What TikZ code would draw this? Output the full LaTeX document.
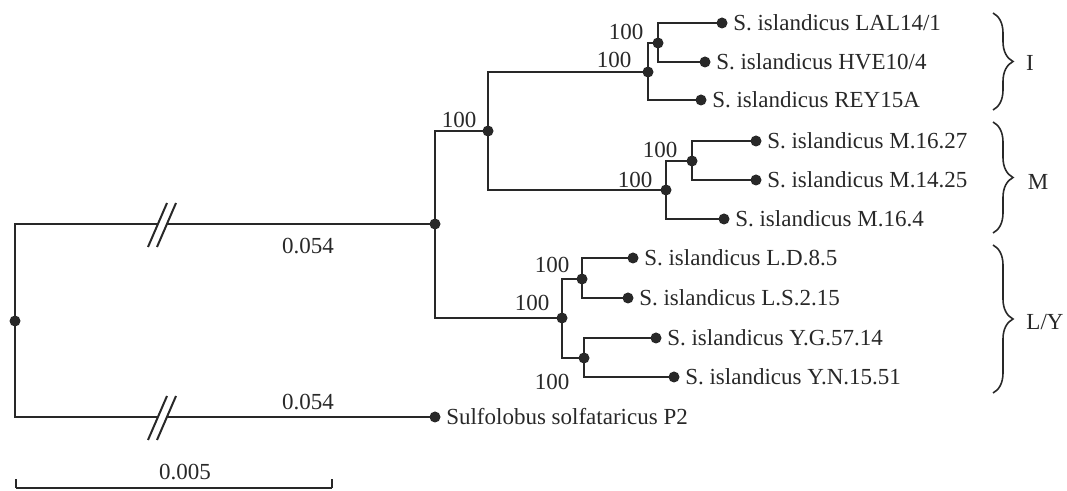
\documentclass[tikz,border=0pt]{standalone}
\usepackage{fontspec}
\setmainfont{Liberation Serif}
\usetikzlibrary{decorations.pathreplacing}

\definecolor{treegray}{RGB}{40,40,40}

\tikzset{
  dot/.style={circle, fill=treegray, inner sep=0pt, minimum size=5.5pt},
  branch/.style={draw=treegray, line width=1pt},
  txt/.style={text=treegray, inner sep=0pt, font=\fontsize{11.5}{13}\selectfont},
  taxon/.style={txt, label distance=2.5pt},
  clade/.style={draw=treegray, line width=0.8pt, decorate,
    decoration={brace, amplitude=10pt}}
}

\begin{document}
\begin{tikzpicture}[x=0.5pt, y=-0.5pt]
   \useasboundingbox (0,0) rectangle (1067,491);

   % inner nodes
   \node[dot] (root) at (15,321) {};
   \node[dot] (isl) at (435,224) {};
   \node[dot] (im) at (488,131) {};
   \node[dot] (ly) at (562,318) {};
   \node[dot] (ci) at (648,72) {};
   \node[dot] (ci2) at (658,43) {};
   \node[dot] (cm) at (666,190) {};
   \node[dot] (cm2) at (692,161) {};
   \node[dot] (cl) at (582,279) {};
   \node[dot] (cy) at (584,358) {};

   % leaves
   \node[dot, label={[taxon]right:S. islandicus LAL14/1}] (lal) at (722,23) {};
   \node[dot, label={[taxon]right:S. islandicus HVE10/4}] (hve) at (705,62) {};
   \node[dot, label={[taxon]right:S. islandicus REY15A}] (rey) at (701,100) {};
   \node[dot, label={[taxon]right:S. islandicus M.16.27}] (m1627) at (756,141) {};
   \node[dot, label={[taxon]right:S. islandicus M.14.25}] (m1425) at (756,180) {};
   \node[dot, label={[taxon]right:S. islandicus M.16.4}] (m164) at (724,219) {};
   \node[dot, label={[taxon]right:S. islandicus L.D.8.5}] (ld) at (633,258) {};
   \node[dot, label={[taxon]right:S. islandicus L.S.2.15}] (ls) at (628,298) {};
   \node[dot, label={[taxon]right:S. islandicus Y.G.57.14}] (yg) at (656,338) {};
   \node[dot, label={[taxon]right:S. islandicus Y.N.15.51}] (yn) at (674,377) {};
   \node[dot, label={[taxon]right:Sulfolobus solfataricus P2}] (sso) at (435,417) {};

   % branches
   \coordinate (brk1) at (158,224);
   \coordinate (brk2) at (167,224);
   \coordinate (brk3) at (158,417);
   \coordinate (brk4) at (167,417);
   \draw[branch] (root.center) |- (brk1);
   \draw[branch] (brk2) -- (isl.center);
   \draw[branch] (root.center) |- (brk3);
   \draw[branch] (brk4) -- (sso.center);
   \draw[branch] (isl.center) |- (im.center);
   \draw[branch] (isl.center) |- (ly.center);
   \draw[branch] (im.center) |- (ci.center);
   \draw[branch] (im.center) |- (cm.center);
   \draw[branch] (ci.center) |- (ci2.center);
   \draw[branch] (ci.center) |- (rey.center);
   \draw[branch] (ci2.center) |- (lal.center);
   \draw[branch] (ci2.center) |- (hve.center);
   \draw[branch] (cm.center) |- (cm2.center);
   \draw[branch] (cm.center) |- (m164.center);
   \draw[branch] (cm2.center) |- (m1627.center);
   \draw[branch] (cm2.center) |- (m1425.center);
   \draw[branch] (ly.center) |- (cl.center);
   \draw[branch] (ly.center) |- (cy.center);
   \draw[branch] (cl.center) |- (ld.center);
   \draw[branch] (cl.center) |- (ls.center);
   \draw[branch] (cy.center) |- (yg.center);
   \draw[branch] (cy.center) |- (yn.center);

   % breaks
   \draw[branch] (148,247) -- (167,203);
   \draw[branch] (157,247) -- (176,203);
   \draw[branch] (148,440) -- (167,396);
   \draw[branch] (157,440) -- (176,396);

   % branch lengths
   \node[txt] (len1) at (308,246) {0.054};
   \node[txt] (len2) at (308,402) {0.054};

   % bootstrap values
   \node[txt] (b1) at ([shift={(-29,-11)}]im.center) {100};
   \node[txt] (b2) at ([shift={(-34,-12)}]ci.center) {100};
   \node[txt] (b3) at ([shift={(-32,-11)}]ci2.center) {100};
   \node[txt] (b4) at ([shift={(-31,-10)}]cm.center) {100};
   \node[txt] (b5) at ([shift={(-32,-11)}]cm2.center) {100};
   \node[txt] (b6) at ([shift={(-30,-15)}]ly.center) {100};
   \node[txt] (b7) at ([shift={(-30,-14)}]cl.center) {100};
   \node[txt] (b8) at ([shift={(-32,24)}]cy.center) {100};

   % clades
   \draw[clade] (993,13) -- (993,110);
   \draw[clade] (993,122) -- (993,233);
   \draw[clade] (993,245) -- (993,393);
   \node[txt] (cI) at (1030,63) {I};
   \node[txt] (cM) at (1038,182) {M};
   \node[txt] (cLY) at (1045,322) {L/Y};

   % scale bar
   \coordinate (sb1) at (16,488);
   \coordinate (sb2) at (332,488);
   \draw[branch] (sb1) -- (sb2);
   \draw[branch, line width=0.6pt] (sb1) -- ++(0,-9);
   \draw[branch, line width=0.6pt] (sb2) -- ++(0,-9);
   \node[txt] (sbl) at (185,472) {0.005};
\end{tikzpicture}
\end{document}
